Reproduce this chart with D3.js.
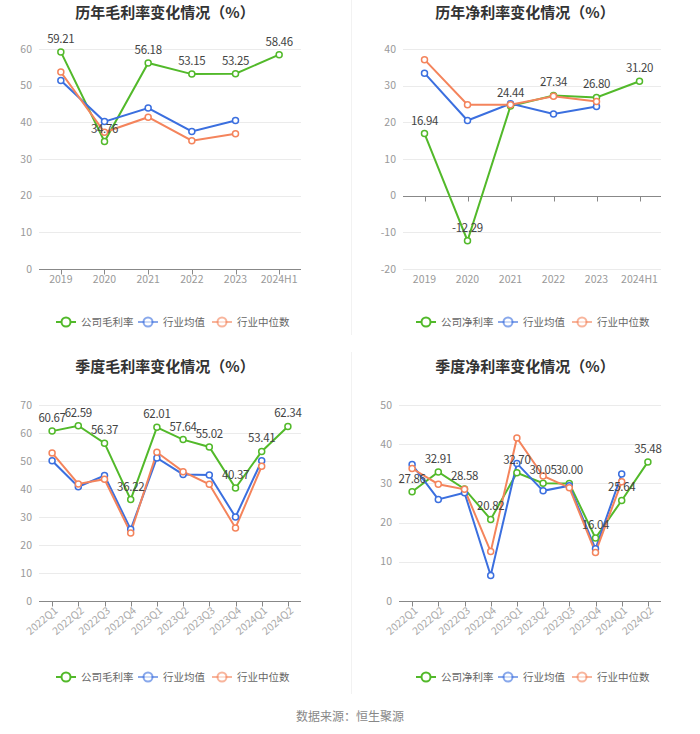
<!DOCTYPE html>
<html><head><meta charset="utf-8">
<script src="https://cdn.jsdelivr.net/npm/d3@7"></script>
<style>
body{margin:0;background:#fff;}
svg{display:block;font-family:"Noto Sans CJK SC","Noto Sans",sans-serif;}
</style></head><body>
<svg id="c" width="700" height="734"></svg>
<script>
const years = ["2019","2020","2021","2022","2023","2024H1"];
const quarters = ["2022Q1","2022Q2","2022Q3","2022Q4","2023Q1","2023Q2","2023Q3","2023Q4","2024Q1","2024Q2"];

const grossYearCompany = [59.21, 34.76, 56.18, 53.15, 53.25, 58.46];
const grossYearMean    = [51.4, 40.2, 43.9, 37.5, 40.5, null];
const grossYearMedian  = [53.7, 37.3, 41.4, 35.0, 36.9, null];

const netYearCompany = [16.94, -12.29, 24.44, 27.34, 26.80, 31.20];
const netYearMean    = [33.4, 20.5, 25.1, 22.3, 24.3, null];
const netYearMedian  = [37.1, 24.8, 24.8, 27.1, 25.7, null];

const grossQCompany = [60.67, 62.59, 56.37, 36.22, 62.01, 57.64, 55.02, 40.37, 53.41, 62.34];
const grossQMean    = [50.1, 40.8, 44.8, 25.6, 51.1, 45.2, 45.0, 30.0, 50.1, null];
const grossQMedian  = [52.9, 41.8, 43.5, 24.3, 53.1, 46.2, 41.7, 26.1, 48.1, null];

const netQCompany = [27.86, 32.91, 28.58, 20.82, 32.70, 30.05, 30.00, 16.04, 25.64, 35.48];
const netQMean    = [34.8, 25.9, 27.6, 6.5, 35.1, 28.1, 29.4, 13.3, 32.4, null];
const netQMedian  = [33.8, 29.8, 28.5, 12.6, 41.6, 31.9, 28.9, 12.4, 30.4, null];

const yTicksGrossYear = [0,10,20,30,40,50,60];
const yTicksNetYear = [-20,-10,0,10,20,30,40];
const yTicksGrossQ = [0,10,20,30,40,50,60,70];
const yTicksNetQ = [0,10,20,30,40,50];

const titles = ["历年毛利率变化情况（%）","历年净利率变化情况（%）","季度毛利率变化情况（%）","季度净利率变化情况（%）"];
const legendGross = ["公司毛利率","行业均值","行业中位数"];
const legendNet = ["公司净利率","行业均值","行业中位数"];
const source = "数据来源：恒生聚源";

const GREEN="#52b92a", BLUE="#3b6fdf", ORANGE="#f4845c";
const svg = d3.select("#c");

// separators
svg.append("line").attr("x1",351.5).attr("x2",351.5).attr("y1",0).attr("y2",335).attr("stroke","#f2f2f2");
svg.append("line").attr("x1",351.5).attr("x2",351.5).attr("y1",352).attr("y2",694).attr("stroke","#f2f2f2");

function panel(o){
  const g = svg.append("g");
  const x = d3.scaleBand().domain(o.cats).range([o.left,o.right]);
  const y = d3.scaleLinear().domain(o.domain).range([o.bottom,o.top]);
  const cx = c => x(c)+x.bandwidth()/2;
  // title
  g.append("text").attr("x",o.cx).attr("y",o.titleY).attr("text-anchor","middle")
    .attr("font-size",15).attr("font-weight","bold").attr("fill","#333").text(o.title);
  // grid
  g.selectAll(".grid").data(o.ticks).enter().append("line")
    .attr("x1",o.left).attr("x2",o.right).attr("y1",d=>Math.round(y(d))+0.5).attr("y2",d=>Math.round(y(d))+0.5)
    .attr("stroke","#ebebeb");
  // y labels
  g.selectAll(".yl").data(o.ticks).enter().append("text")
    .attr("x",o.left-7).attr("y",d=>y(d)).attr("dy","0.35em").attr("text-anchor","end")
    .attr("font-size",10.5).attr("fill","#999").text(d=>d);
  // x axis line at zero
  const zy = Math.round(y(Math.max(0,o.domain[0])))+0.5;
  g.append("line").attr("x1",o.left).attr("x2",o.right).attr("y1",zy).attr("y2",zy).attr("stroke","#888");
  g.selectAll(".tk").data(o.cats).enter().append("line")
    .attr("x1",d=>Math.round(cx(d))+0.5).attr("x2",d=>Math.round(cx(d))+0.5).attr("y1",zy).attr("y2",zy+5).attr("stroke","#888");
  // x labels
  if(o.rotate){
    g.selectAll(".xl").data(o.cats).enter().append("text")
      .attr("transform",d=>`translate(${cx(d)+4},${o.bottom+8}) rotate(-40)`)
      .attr("text-anchor","end").attr("dy","0.35em").attr("font-size",10.5).attr("fill","#aaa").text(d=>d);
  } else {
    g.selectAll(".xl").data(o.cats).enter().append("text")
      .attr("x",d=>cx(d)).attr("y",o.bottom+10).attr("dy","0.35em").attr("text-anchor","middle")
      .attr("font-size",10.5).attr("fill","#999").text(d=>d);
  }
  const line = d3.line().defined(d=>d[1]!=null).x(d=>cx(d[0])).y(d=>y(d[1]));
  const series = [[o.company,GREEN],[o.mean,BLUE],[o.median,ORANGE]];
  series.forEach(([vals,col])=>{
    const pts = o.cats.map((c,i)=>[c,vals[i]]);
    g.append("path").datum(pts).attr("d",line).attr("fill","none").attr("stroke",col).attr("stroke-width",2);
  });
  series.forEach(([vals,col])=>{
    const pts = o.cats.map((c,i)=>[c,vals[i]]).filter(d=>d[1]!=null);
    g.selectAll(null).data(pts).enter().append("circle")
      .attr("cx",d=>cx(d[0])).attr("cy",d=>y(d[1])).attr("r",3)
      .attr("fill","#fff").attr("stroke",col).attr("stroke-width",1.5);
  });
  // labels
  g.selectAll(".lb").data(o.cats.map((c,i)=>[c,o.company[i]])).enter().append("text")
    .attr("x",d=>cx(d[0])).attr("y",d=>y(d[1])-9).attr("text-anchor","middle")
    .attr("font-size",11.5).attr("letter-spacing",-0.3).attr("fill","#444").text(d=>d[1].toFixed(2));
  // legend
  const lg = g.append("g").attr("transform",`translate(${o.legendX},${o.legendY})`);
  const offs = [0,82,156];
  o.legend.forEach((t,i)=>{
    const col = [GREEN,BLUE,ORANGE][i];
    const op = i===0?1:0.6;
    const it = lg.append("g").attr("transform",`translate(${offs[i]},0)`);
    it.append("line").attr("x1",0).attr("x2",20).attr("y1",0).attr("y2",0).attr("stroke",col).attr("stroke-width",2).attr("opacity",op);
    it.append("circle").attr("cx",10).attr("cy",0).attr("r",4.5).attr("fill","#fff").attr("stroke",col).attr("stroke-width",2).attr("opacity",op);
    it.append("text").attr("x",25).attr("y",0).attr("dy","0.35em").attr("font-size",10.5).attr("fill","#666").text(t);
  });
}

panel({cats:years,left:39,right:301,top:49,bottom:269,domain:[0,60],ticks:yTicksGrossYear,
  company:grossYearCompany,mean:grossYearMean,median:grossYearMedian,title:titles[0],cx:165,titleY:18,
  legend:legendGross,legendX:56,legendY:322});
panel({cats:years,left:403,right:661,top:49,bottom:269,domain:[-20,40],ticks:yTicksNetYear,
  company:netYearCompany,mean:netYearMean,median:netYearMedian,title:titles[1],cx:525,titleY:18,
  legend:legendNet,legendX:416,legendY:322});
panel({cats:quarters,left:39,right:301,top:405,bottom:601,domain:[0,70],ticks:yTicksGrossQ,rotate:true,
  company:grossQCompany,mean:grossQMean,median:grossQMedian,title:titles[2],cx:165,titleY:372,
  legend:legendGross,legendX:56,legendY:677});
panel({cats:quarters,left:399,right:661,top:405,bottom:601,domain:[0,50],ticks:yTicksNetQ,rotate:true,
  company:netQCompany,mean:netQMean,median:netQMedian,title:titles[3],cx:525,titleY:372,
  legend:legendNet,legendX:416,legendY:677});

svg.append("text").attr("x",350).attr("y",717).attr("dy","0.35em").attr("text-anchor","middle")
  .attr("font-size",12).attr("fill","#888").text(source);
</script>
</body></html>
